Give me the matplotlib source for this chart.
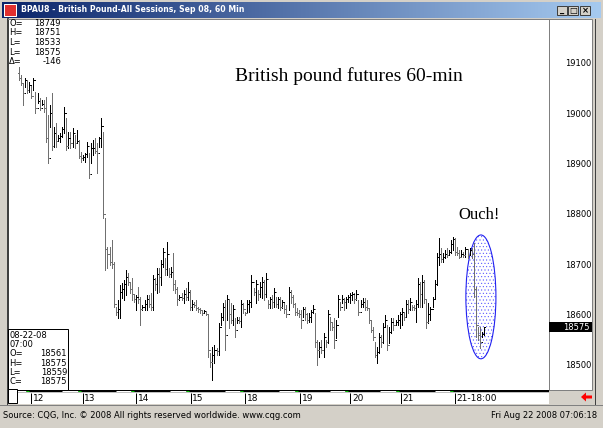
import matplotlib.pyplot as plt
import numpy as np
import matplotlib.transforms as mtransforms
from matplotlib.patches import Rectangle, Ellipse, Polygon
from matplotlib.colors import LinearSegmentedColormap

W, H = 603, 428

# hourly OHLC bars, BPU8 (open = previous close)
highs = [19092, 19076, 19060, 19070, 19066, 19062, 19056, 19070, 19042, 19040,
         19030, 19026, 19026, 19032, 18996, 19016, 19040, 18973, 18980, 18957,
         18961, 18973, 19012, 18990, 18963, 18963, 18971, 18957, 18967, 18947,
         18923, 18917, 18921, 18943, 18921, 18941, 18947, 18951, 18941, 18953,
         18990, 18963, 18792, 18734, 18734, 18748, 18704, 18615, 18629, 18658,
         18662, 18668, 18688, 18682, 18662, 18672, 18639, 18639, 18654, 18635,
         18619, 18629, 18639, 18639, 18642, 18678, 18672, 18692, 18692, 18708,
         18732, 18712, 18744, 18692, 18694, 18722, 18668, 18654, 18639, 18642,
         18648, 18652, 18664, 18648, 18629, 18625, 18629, 18615, 18613, 18609,
         18609, 18605, 18599, 18523, 18535, 18539, 18533, 18583, 18603, 18623,
         18629, 18639, 18629, 18623, 18619, 18593, 18595, 18595, 18629, 18623,
         18605, 18629, 18629, 18678, 18652, 18668, 18648, 18664, 18674, 18668,
         18682, 18629, 18635, 18639, 18652, 18635, 18635, 18635, 18629, 18625,
         18619, 18654, 18648, 18639, 18623, 18613, 18609, 18609, 18615, 18615,
         18603, 18603, 18609, 18619, 18603, 18549, 18545, 18549, 18563, 18549,
         18609, 18595, 18583, 18593, 18589, 18639, 18625, 18639, 18633, 18635,
         18639, 18642, 18644, 18642, 18648, 18629, 18629, 18633, 18633, 18629,
         18613, 18589, 18575, 18545, 18535, 18563, 18559, 18583, 18599, 18579,
         18575, 18593, 18593, 18589, 18599, 18605, 18613, 18603, 18629, 18629,
         18633, 18619, 18619, 18629, 18672, 18664, 18678, 18668, 18629, 18623,
         18615, 18635, 18668, 18722, 18752, 18732, 18722, 18728, 18732, 18728,
         18748, 18754, 18751, 18734, 18728, 18728, 18724, 18734, 18728, 18732,
         18732, 18742, 18654, 18575, 18575, 18565, 18575]
lows = [19066, 19056, 19016, 19052, 19040, 19042, 19030, 19046, 19000, 19020,
        19006, 19016, 19002, 18943, 18901, 18973, 18927, 18933, 18933, 18947,
        18943, 18953, 18961, 18927, 18931, 18931, 18933, 18931, 18941, 18911,
        18903, 18907, 18903, 18913, 18871, 18901, 18917, 18921, 18881, 18933,
        18933, 18792, 18688, 18692, 18698, 18692, 18615, 18599, 18593, 18593,
        18633, 18629, 18639, 18658, 18642, 18629, 18625, 18609, 18623, 18579,
        18609, 18609, 18609, 18615, 18609, 18609, 18648, 18642, 18644, 18658,
        18694, 18678, 18678, 18674, 18674, 18648, 18642, 18619, 18629, 18629,
        18623, 18629, 18629, 18609, 18609, 18615, 18609, 18605, 18603, 18599,
        18603, 18599, 18515, 18495, 18470, 18503, 18519, 18519, 18579, 18589,
        18529, 18589, 18573, 18583, 18579, 18555, 18583, 18583, 18575, 18603,
        18599, 18603, 18605, 18615, 18639, 18623, 18629, 18635, 18633, 18629,
        18635, 18613, 18613, 18613, 18615, 18615, 18613, 18609, 18613, 18603,
        18595, 18609, 18623, 18615, 18599, 18599, 18595, 18573, 18595, 18589,
        18583, 18585, 18585, 18603, 18535, 18499, 18515, 18523, 18515, 18535,
        18543, 18569, 18569, 18533, 18553, 18595, 18609, 18623, 18609, 18613,
        18625, 18623, 18629, 18623, 18629, 18599, 18615, 18615, 18609, 18609,
        18583, 18565, 18549, 18515, 18503, 18523, 18535, 18543, 18575, 18529,
        18543, 18563, 18569, 18579, 18579, 18573, 18579, 18589, 18595, 18603,
        18609, 18609, 18609, 18585, 18615, 18615, 18615, 18623, 18573, 18583,
        18589, 18615, 18633, 18658, 18698, 18704, 18704, 18712, 18714, 18718,
        18722, 18728, 18718, 18718, 18712, 18714, 18714, 18714, 18712, 18718,
        18712, 18635, 18555, 18549, 18533, 18555, 18559]
closes = [19070, 19060, 19040, 19066, 19046, 19056, 19034, 19066, 19010, 19024,
          19010, 19018, 19010, 18950, 18910, 19000, 18935, 18960, 18945, 18950,
          18955, 18968, 19000, 18935, 18950, 18940, 18960, 18940, 18945, 18915,
          18910, 18912, 18918, 18935, 18880, 18930, 18930, 18925, 18920, 18950,
          18975, 18800, 18730, 18720, 18705, 18700, 18620, 18605, 18610, 18645,
          18650, 18660, 18675, 18665, 18650, 18640, 18630, 18635, 18630, 18610,
          18615, 18620, 18630, 18620, 18615, 18670, 18660, 18680, 18675, 18700,
          18725, 18690, 18720, 18680, 18685, 18660, 18650, 18630, 18635, 18632,
          18640, 18635, 18645, 18615, 18620, 18618, 18612, 18610, 18608, 18602,
          18606, 18600, 18530, 18505, 18520, 18530, 18528, 18575, 18595, 18615,
          18560, 18630, 18600, 18590, 18610, 18570, 18590, 18588, 18620, 18610,
          18603, 18620, 18625, 18665, 18645, 18660, 18640, 18655, 18665, 18640,
          18670, 18620, 18630, 18625, 18645, 18620, 18630, 18615, 18625, 18610,
          18600, 18645, 18635, 18620, 18605, 18603, 18600, 18590, 18610, 18600,
          18590, 18595, 18605, 18610, 18545, 18530, 18535, 18530, 18555, 18545,
          18600, 18585, 18575, 18550, 18580, 18630, 18615, 18630, 18625, 18630,
          18635, 18638, 18640, 18630, 18640, 18605, 18620, 18625, 18615, 18612,
          18590, 18570, 18555, 18520, 18525, 18555, 18545, 18575, 18590, 18540,
          18565, 18585, 18580, 18585, 18590, 18600, 18605, 18595, 18620, 18610,
          18625, 18615, 18612, 18620, 18660, 18640, 18665, 18630, 18585, 18600,
          18610, 18630, 18660, 18715, 18720, 18710, 18715, 18720, 18718, 18725,
          18740, 18749, 18725, 18722, 18715, 18720, 18718, 18730, 18718, 18728,
          18720, 18650, 18580, 18560, 18545, 18561, 18575]
first_open = 19080

day_ticks = [6, 31, 57, 83.5, 110, 136.5, 161, 185.5, 212]
day_labels = ['12', '13', '14', '15', '18', '19', '20', '21', '21-18:00']
price_ticks = [18500, 18600, 18700, 18800, 18900, 19000, 19100]
last_price = 18575

session_info = [('O=', '18749'), ('H=', '18751'), ('L=', '18533'),
                ('L=', '18575'), ('\u0394=', '-146')]
bar_info = [('08-22-08', ''), ('07:00', ''), ('O=', '18561'),
            ('H=', '18575'), ('L=', '18559'), ('C=', '18575')]

PX = 0.72  # one pixel in points at 100 dpi
XLIM = (-5.35, 257.6)


def box(x0, y0, x1, y1):
    return [x0 / W, 1 - y1 / H, (x1 - x0) / W, (y1 - y0) / H]


def fx(x):
    return x / W


def fy(y):
    return 1 - y / H


plt.rcParams['font.family'] = ['DejaVu Sans']
plt.rcParams['hatch.linewidth'] = 0.35
fig = plt.figure(figsize=(W / 100, H / 100), dpi=100, facecolor='#D4D0C8')

# window title bar
ax_t = fig.add_axes(box(2, 2, 601, 18))
cmap = LinearSegmentedColormap.from_list('tb', ['#0A246A', '#A6CAF0'])
ax_t.imshow(np.linspace(0, 1, 256).reshape(1, -1), aspect='auto', cmap=cmap,
            extent=[0, 1, 0, 1])
ax_t.axis('off')
fig.patches.append(Rectangle((fx(4), fy(16)), 12 / W, 12 / H, transform=fig.transFigure,
                             facecolor='#E03030', edgecolor='white', lw=PX))
fig.text(fx(21), fy(10), 'BPAU8 - British Pound-All Sessions, Sep 08, 60 Min',
         color='white', weight='bold', size=5.6, va='center')
for bx, sym in [(557, '_'), (568, '\u25a1'), (580, '\u00d7')]:
    fig.patches.append(Rectangle((fx(bx), fy(15)), 10 / W, 9 / H, transform=fig.transFigure,
                                 facecolor='#D4D0C8', edgecolor='#404040', lw=PX))
    fig.text(fx(bx + 5), fy(10.5), sym, size=6, ha='center', va='center', weight='bold')

# right price panel and window edges
fig.patches.append(Rectangle((fx(549), fy(390)), 43 / W, 371 / H, transform=fig.transFigure,
                             facecolor='white', edgecolor='#808080', lw=PX, zorder=-1))
for xx in (7, 595):
    fig.lines.append(plt.Line2D([fx(xx), fx(xx)], [fy(19), fy(404)], transform=fig.transFigure,
                                color='#404040', lw=PX))
fig.lines.append(plt.Line2D([fx(0), fx(603)], [fy(405), fy(405)], transform=fig.transFigure,
                            color='#808080', lw=PX))

# main chart
ax = fig.add_axes(box(8, 19, 549, 390))
x = np.arange(len(closes))
opens = [first_open] + closes[:-1]
colors = ['black' if c >= o else '#707070' for o, c in zip(opens, closes)]
ax.vlines(x, lows, highs, colors=colors, lw=PX, zorder=3, antialiased=False)
ax.hlines(opens, x - 0.6, x, colors=colors, lw=PX, zorder=3, antialiased=False)
ax.hlines(closes, x, x + 0.6, colors=colors, lw=PX, zorder=3, antialiased=False)
ax.set_xlim(*XLIM)
ax.set_ylim(18450, 19187)
ax.set_xticks([])
ax.yaxis.tick_right()
ax.set_yticks(price_ticks)
ax.tick_params(axis='y', length=0, pad=11.5, labelsize=6)
for s in ('top', 'right'):
    ax.spines[s].set_color('#808080')
    ax.spines[s].set_linewidth(PX)
ax.spines['left'].set_linewidth(1.5 * PX)
ax.spines['bottom'].set_visible(False)

# "Ouch!" ellipse round the last bars
ax.add_patch(Ellipse((224.5, 18635), 14.6, 246, facecolor='white', edgecolor='#4A4AFF',
                     hatch='.....', lw=0, zorder=1))
ax.add_patch(Ellipse((224.5, 18635), 14.6, 246, fill=False, edgecolor='#2020F0',
                     lw=1.1 * PX, zorder=2))

# last price marker
blend = mtransforms.blended_transform_factory(ax.transAxes, ax.transData)
ax.add_patch(Rectangle((1.0, last_price - 10), 43 / 541, 20, transform=blend,
                       facecolor='black', clip_on=False, zorder=5))
ax.text(1.0 + 41 / 541, last_price, f'{last_price}', transform=blend, color='white',
        size=6, ha='right', va='center', clip_on=False, zorder=6)

fig.text(fx(349), fy(76), 'British pound futures 60-min', family='Liberation Serif',
         size=14, ha='center', va='center')
fig.text(fx(479), fy(215), 'Ouch!', family='Liberation Serif', size=12,
         ha='center', va='center')

# session info, top left
for i, (lab, val) in enumerate(session_info):
    yy = 23.3 + 9.6 * i
    fig.text(fx(9), fy(yy), lab, size=6, va='center')
    fig.text(fx(61), fy(yy), val, size=6, va='center', ha='right')

# last bar info box, bottom left
fig.patches.append(Rectangle((fx(8), fy(390)), 60 / W, 61 / H, transform=fig.transFigure,
                             facecolor='white', edgecolor='black', lw=PX, zorder=2))
for i, (lab, val) in enumerate(bar_info):
    yy = 335 + 9.4 * i
    fig.text(fx(9), fy(yy), lab, size=6, va='center', zorder=3)
    fig.text(fx(67), fy(yy), val, size=6, va='center', ha='right', zorder=3)

# date strip
ax_d = fig.add_axes(box(8, 390, 549, 404))
ax_d.set_xlim(*XLIM)
ax_d.set_ylim(14, 0)
ax_d.set_xticks([])
ax_d.set_yticks([])
for s in ax_d.spines.values():
    s.set_visible(False)
ax_d.plot([-1, XLIM[1]], [1.2, 1.2], color='black', lw=2.5 * PX, solid_capstyle='butt')
for t, lab in zip(day_ticks, day_labels):
    ax_d.plot([t - 10, t - 2.5], [1.2, 1.2], color='white', lw=PX, solid_capstyle='butt')
    ax_d.plot([t - 2.5, t - 1], [1.2, 1.2], color='#00C000', lw=PX, solid_capstyle='butt')
    ax_d.vlines(t, 2.5, 14, color='black', lw=PX)
    ax_d.text(t + 0.8, 8.3, lab, size=6.5, va='center')
fig.patches.append(Rectangle((fx(8), fy(403)), 9 / W, 14 / H, transform=fig.transFigure,
                             facecolor='white', edgecolor='black', lw=PX, zorder=3))

# red scroll arrow
arrow = [(581, 397), (586, 392.5), (586, 395.5), (592, 395.5), (592, 398.5), (586, 398.5), (586, 401.5)]
fig.patches.append(Polygon([(fx(a), fy(b)) for a, b in arrow], closed=True,
                           transform=fig.transFigure, facecolor='#FF0000', edgecolor='none'))

# footer
fig.text(fx(3), fy(415), 'Source: CQG, Inc. \u00a9 2008 All rights reserved worldwide. www.cqg.com',
         size=6, va='center')
fig.text(fx(597), fy(415), 'Fri Aug 22 2008 07:06:18', size=6, va='center', ha='right')

plt.savefig('out.png', dpi=100, facecolor=fig.get_facecolor())
plt.close()
